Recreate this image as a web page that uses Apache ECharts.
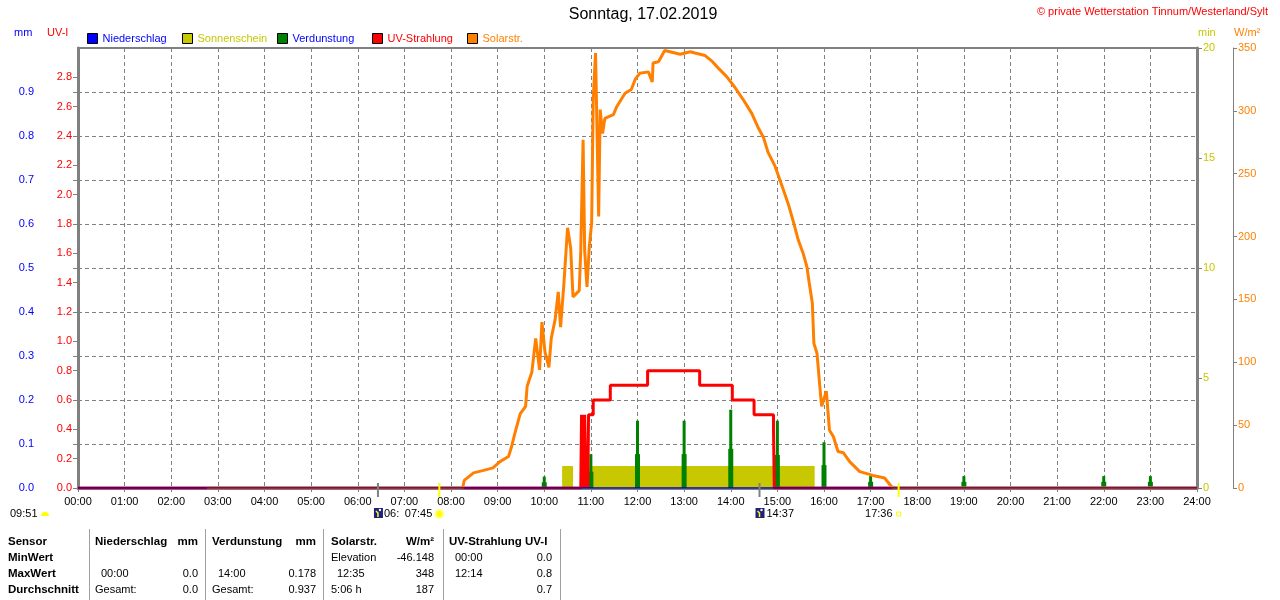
<!DOCTYPE html>
<html><head><meta charset="utf-8">
<script src="https://cdn.jsdelivr.net/npm/echarts@6.0.0/dist/echarts.min.js"></script>
<style>html,body{margin:0;padding:0;background:#fff}#c{width:1280px;height:600px}</style>
</head><body><div id="c"></div>
<script>
// ---------- data (x = minutes since 00:00) ----------
const rainTime = [0, 1440];
const rainValue = [0, 0];

const sunStart = [623, 646];
const sunEnd = [637, 948];
const sunValue = [1, 1];

const evapTime = [600, 660, 720, 780, 840, 900, 960, 1020, 1140, 1320, 1380];
const evapPeak = [0.026, 0.077, 0.153, 0.153, 0.178, 0.153, 0.104, 0.027, 0.027, 0.027, 0.027];
const evapBase = [0.013, 0.037, 0.077, 0.077, 0.089, 0.075, 0.052, 0.014, 0.014, 0.014, 0.014];

const uvTime = [0, 647, 648, 649, 650, 651, 652, 653, 654, 655, 656, 657, 663, 685, 733, 800, 842, 870, 895, 896, 1440];
const uvValue = [0, 0, 0.5, 0, 0.5, 0, 0.5, 0.2, 0, 0.2, 0, 0.5, 0.6, 0.7, 0.8, 0.7, 0.6, 0.5, 0.4, 0, 0];

const solarTime = [166, 495, 497, 509, 522, 534, 543, 554, 558, 562, 569, 576, 578, 584, 589, 594, 597, 601, 606, 609, 614, 618, 621, 625, 630, 634, 637, 645, 647, 650, 652, 655, 658, 661, 663, 666, 670, 672, 675, 678, 689, 693, 700, 704, 712, 717, 723, 734, 739, 740, 747, 755, 775, 788, 794, 807, 815, 824, 835, 845, 856, 867, 875, 882, 888, 897, 905, 914, 920, 927, 933, 938, 941, 945, 947, 951, 955, 957, 963, 967, 972, 978, 985, 993, 1006, 1023, 1038, 1047, 1051, 1440];
const solarValue = [0, 0, 6, 12, 14, 16, 21, 25, 33, 43, 59, 65, 81, 92, 119, 94, 132, 108, 96, 119, 134, 156, 128, 160, 207, 191, 152, 157, 189, 277, 189, 160, 192, 211, 309, 346, 216, 301, 282, 294, 297, 303, 310, 314, 317, 325, 330, 331, 323, 338, 339, 348, 345, 347, 346, 344, 340, 334, 327, 319, 309, 298, 287, 279, 267, 256, 242, 226, 213, 197, 187, 176, 163, 147, 115, 107, 78, 65, 77, 46, 41, 29, 28, 21, 13, 10, 8, 1, 0, 0];

// astro events (minutes)
const moonSet = 386, sunRise = 465, moonRise = 877, sunSet = 1056;

// table
const tableRows = ['Sensor', 'MinWert', 'MaxWert', 'Durchschnitt'];

// ---------- chart ----------
const FONT = '"Liberation Sans", Arial, sans-serif';
const GRAY = '#808080';
const C_RAIN = '#0000ff', C_SUN = '#c8c800', C_EVAP = '#008000', C_UV = '#ff0000', C_SOL = '#ff8000';

const zip = (a, b) => a.map((t, i) => [t, b[i]]);
const sunData = [[0, 0]];
sunStart.forEach((s, i) => { sunData.push([s, 0], [s, sunValue[i]], [sunEnd[i], sunValue[i]], [sunEnd[i], 0]); });
sunData.push([1440, 0]);

const pad = n => (n < 10 ? '0' : '') + n;
const chart = echarts.init(document.getElementById('c'), null, { renderer: 'canvas' });

function legendAt(x, name, color) {
  return {
    left: x, top: 33, padding: 0, itemWidth: 10, itemHeight: 10, itemGap: 5,
    icon: 'rect', selectedMode: false,
    itemStyle: { borderColor: '#000', borderWidth: 1 },
    textStyle: { fontFamily: FONT, fontSize: 11, color: color },
    data: [{ name: name }]
  };
}

const yLbl = (c) => ({ color: c, fontFamily: FONT, fontSize: 11, margin: 6 });

chart.setOption({
  animation: false,
  backgroundColor: '#fff',
  grid: { left: 78, right: 83, top: 48, bottom: 112, show: true, borderColor: GRAY, borderWidth: 2 },
  legend: [
    legendAt(87, 'Niederschlag', C_RAIN),
    legendAt(182, 'Sonnenschein', C_SUN),
    legendAt(277, 'Verdunstung', '#0000ff'),
    legendAt(372, 'UV-Strahlung', C_UV),
    legendAt(467, 'Solarstr.', C_SOL)
  ],
  xAxis: [{
    type: 'value', min: 0, max: 1440, interval: 60,
    axisLine: { lineStyle: { color: GRAY, width: 3 } },
    axisTick: { show: true, length: 4, lineStyle: { color: GRAY } },
    axisLabel: { color: '#000', fontFamily: FONT, fontSize: 11, margin: 8, formatter: v => pad(Math.round(v / 60)) + ':00' },
    splitLine: { show: true, lineStyle: { color: GRAY, type: [4, 3], width: 1 } }
  }, {
    type: 'value', min: 0, max: 1440, show: false
  }],
  yAxis: [{
    type: 'value', position: 'left', offset: 38, min: 0, max: 1, interval: 0.1,
    axisLine: { show: true, lineStyle: { color: GRAY, width: 1 } },
    axisTick: { show: true, length: 5, lineStyle: { color: GRAY } },
    axisLabel: Object.assign(yLbl(C_RAIN), { showMaxLabel: false, formatter: v => v.toFixed(1) }),
    splitLine: { show: true, lineStyle: { color: GRAY, type: [4, 3], width: 1 } }
  }, {
    type: 'value', position: 'left', offset: 0, min: 0, max: 3, interval: 0.2,
    axisLine: { show: true, lineStyle: { color: GRAY, width: 3 } },
    axisTick: { show: true, length: 5, lineStyle: { color: GRAY } },
    axisLabel: Object.assign(yLbl(C_UV), { showMaxLabel: false, formatter: v => v.toFixed(1) }),
    splitLine: { show: false }
  }, {
    type: 'value', position: 'right', offset: 0, min: 0, max: 20, interval: 5,
    axisLine: { show: true, lineStyle: { color: GRAY, width: 3 } },
    axisTick: { show: true, length: 5, lineStyle: { color: GRAY } },
    axisLabel: yLbl(C_SUN),
    splitLine: { show: false }
  }, {
    type: 'value', position: 'right', offset: 36, min: 0, max: 350, interval: 50,
    axisLine: { show: true, lineStyle: { color: GRAY, width: 1 } },
    axisTick: { show: true, length: 4, lineStyle: { color: GRAY } },
    axisLabel: Object.assign(yLbl(C_SOL), { margin: 5 }),
    splitLine: { show: false }
  }],
  series: [{
    name: 'Sonnenschein', type: 'line', yAxisIndex: 2, data: sunData,
    symbol: 'none', lineStyle: { width: 0, color: C_SUN }, itemStyle: { color: C_SUN },
    areaStyle: { color: C_SUN, opacity: 1 }, z: 1
  }, {
    name: 'Verdunstung', type: 'bar', xAxisIndex: 0, yAxisIndex: 0, barWidth: 5,
    data: zip(evapTime, evapBase), itemStyle: { color: C_EVAP }, z: 2
  }, {
    name: 'Verdunstung', type: 'bar', xAxisIndex: 1, yAxisIndex: 0, barWidth: 3,
    data: zip(evapTime, evapPeak), itemStyle: { color: C_EVAP }, z: 2
  }, {
    name: 'UV-Strahlung', type: 'line', yAxisIndex: 1, step: 'end', data: zip(uvTime, uvValue),
    symbol: 'none', lineStyle: { width: 3, color: C_UV }, itemStyle: { color: C_UV }, z: 3
  }, {
    name: 'Solarstr.', type: 'line', yAxisIndex: 3, data: zip(solarTime, solarValue),
    symbol: 'none', lineStyle: { width: 3, color: C_SOL }, itemStyle: { color: C_SOL }, z: 4
  }, {
    name: 'Niederschlag', type: 'line', yAxisIndex: 0, data: zip(rainTime, rainValue),
    symbol: 'none', lineStyle: { width: 1.5, color: '#0000c0' }, itemStyle: { color: C_RAIN }, z: 5
  }]
});

// ---------- annotations ----------
const px = t => chart.convertToPixel({ xAxisIndex: 0 }, t);
const axisY = chart.convertToPixel({ yAxisIndex: 0 }, 0);
const G = [];
const txt = (x, y, s, o) => G.push(Object.assign({ type: 'text', x: x, y: y, z: 100,
  style: Object.assign({ text: s, fill: '#000', font: '11px ' + FONT, textAlign: 'left', textVerticalAlign: 'middle' }, o || {}) }));

// title and copyright
txt(643, 15, 'Sonntag, 17.02.2019', { font: '16px ' + FONT, textAlign: 'center' });
txt(1268, 12, '\u00A9 private Wetterstation Tinnum/Westerland/Sylt', { fill: '#ff0000', textAlign: 'right' });
// axis units
txt(14, 33, 'mm', { fill: C_RAIN });
txt(47, 33, 'UV-I', { fill: C_UV });
txt(1198, 33, 'min', { fill: C_SUN });
txt(1234, 33, 'W/m\u00B2', { fill: C_SOL });

// event ticks on the time axis
const tick = (t, color, w) => G.push({ type: 'line', z: 100, shape: { x1: px(t), y1: axisY - 5, x2: px(t), y2: axisY + 9 }, style: { stroke: color, lineWidth: w } });
tick(moonSet, GRAY, 2); tick(sunRise, '#ffff00', 2); tick(moonRise, GRAY, 2); tick(sunSet, '#ffff00', 2);

const moonIcon = (x, y) => {
  G.push({ type: 'rect', z: 100, shape: { x: x, y: y, width: 9, height: 10 }, style: { fill: '#202080' } });
  G.push({ type: 'polyline', z: 101, shape: { points: [[x + 2, y + 3], [x + 4, y + 5], [x + 4, y + 9]] }, style: { stroke: '#ffff00', lineWidth: 1.5, fill: null } });
  G.push({ type: 'circle', z: 101, shape: { cx: x + 6, cy: y + 2, r: 1.2 }, style: { fill: '#ffffff' } });
};
const annY = 514;
// day length
txt(10, annY, '09:51');
G.push({ type: 'sector', z: 100, shape: { cx: 45, cy: annY + 2, r0: 0, r: 4, startAngle: Math.PI, endAngle: 2 * Math.PI }, style: { fill: '#ffff00' } });
// moonset / sunrise
moonIcon(px(moonSet) - 4, annY - 6);
txt(px(moonSet) + 6, annY, '06:');
txt(px(sunRise) - 7, annY, '07:45', { textAlign: 'right' });
G.push({ type: 'circle', z: 100, shape: { cx: px(sunRise), cy: annY, r: 4 }, style: { fill: '#ffff00', stroke: '#ffff90', lineWidth: 2 } });
// moonrise
moonIcon(px(moonRise) - 4, annY - 6);
txt(px(moonRise) + 7, annY, '14:37');
// sunset
txt(px(sunSet) - 6, annY, '17:36', { textAlign: 'right' });
G.push({ type: 'rect', z: 100, shape: { x: px(sunSet) - 2, y: annY - 2, width: 4, height: 4 }, style: { fill: '#fff', stroke: '#ffff00', lineWidth: 1 } });

// statistics table
const rowY = [542, 558, 574, 590];
const B = { font: 'bold 11.5px ' + FONT };
const R = { textAlign: 'right' };
const BR = { font: 'bold 11.5px ' + FONT, textAlign: 'right' };
tableRows.forEach((r, i) => txt(8, rowY[i], r, B));
[89, 205, 323, 443, 560].forEach(x => G.push({ type: 'line', z: 100, shape: { x1: x + 0.5, y1: 529, x2: x + 0.5, y2: 600 }, style: { stroke: '#a0a0a0', lineWidth: 1 } }));
// Niederschlag
txt(95, rowY[0], 'Niederschlag', B); txt(198, rowY[0], 'mm', BR);
txt(101, rowY[2], '00:00'); txt(198, rowY[2], '0.0', R);
txt(95, rowY[3], 'Gesamt:'); txt(198, rowY[3], '0.0', R);
// Verdunstung
txt(212, rowY[0], 'Verdunstung', B); txt(316, rowY[0], 'mm', BR);
txt(218, rowY[2], '14:00'); txt(316, rowY[2], '0.178', R);
txt(212, rowY[3], 'Gesamt:'); txt(316, rowY[3], '0.937', R);
// Solarstr.
txt(331, rowY[0], 'Solarstr.', B); txt(434, rowY[0], 'W/m\u00B2', BR);
txt(331, rowY[1], 'Elevation'); txt(434, rowY[1], '-46.148', R);
txt(337, rowY[2], '12:35'); txt(434, rowY[2], '348', R);
txt(331, rowY[3], '5:06 h'); txt(434, rowY[3], '187', R);
// UV
txt(449, rowY[0], 'UV-Strahlung UV-I', B);
txt(455, rowY[1], '00:00'); txt(552, rowY[1], '0.0', R);
txt(455, rowY[2], '12:14'); txt(552, rowY[2], '0.8', R);
txt(552, rowY[3], '0.7', R);

chart.setOption({ graphic: G });
</script></body></html>
